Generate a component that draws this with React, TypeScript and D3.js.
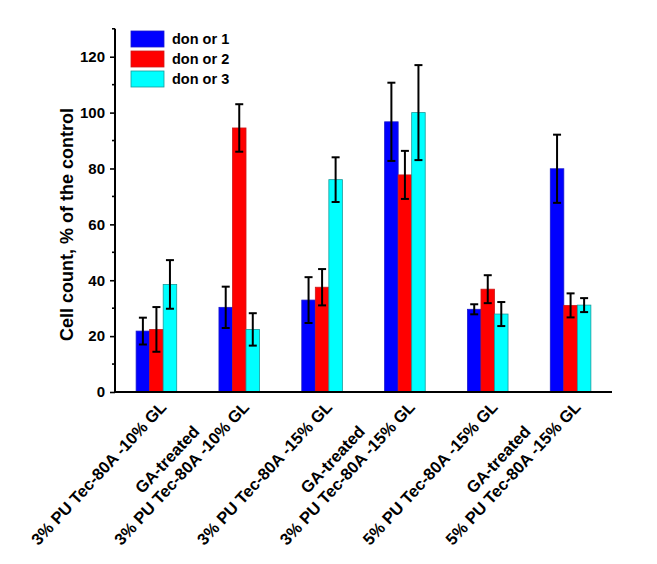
import React, { useEffect, useRef } from 'react';
import * as d3 from 'd3';

// x categories (multi-line labels)
const categories = [
  ['3% PU Tec-80A -10% GL'],
  ['GA-treated', '3% PU Tec-80A -10% GL'],
  ['3% PU Tec-80A -15% GL'],
  ['GA-treated', '3% PU Tec-80A -15% GL'],
  ['5% PU Tec-80A -15% GL'],
  ['GA-treated', '5% PU Tec-80A -15% GL'],
];
const seriesNames = ['don or 1', 'don or 2', 'don or 3'];
const seriesColors = ['#0000ff', '#ff0000', '#00ffff'];
const seriesStrokes = ['#1a1acc', '#cc1a1a', '#1a9a9a'];

const donor1 = [21.8, 30.3, 32.9, 96.7, 29.6, 79.9];
const donor1Err = [4.8, 7.4, 8.2, 14, 1.8, 12.2];
const donor2 = [22.4, 94.5, 37.5, 77.7, 36.8, 31];
const donor2Err = [8, 8.5, 6.5, 8.6, 5, 4.3];
const donor3 = [38.5, 22.4, 76, 100, 27.9, 31.1];
const donor3Err = [8.7, 5.8, 8, 17, 4.3, 2.5];

const yTicks = [0, 20, 40, 60, 80, 100, 120];
const yMinorTicks = [10, 30, 50, 70, 90, 110, 130];

const W = 657;
const H = 564;
const FONT = '"Liberation Sans", Arial, sans-serif';

const App = () => {
  const svgRef = useRef<SVGSVGElement>(null);

  useEffect(() => {
    const svg = d3.select(svgRef.current);
    svg.selectAll('*').remove();

    const values = [donor1, donor2, donor3];
    const errors = [donor1Err, donor2Err, donor3Err];

    const x0 = d3.scaleBand<number>()
      .domain(categories.map((_, i) => i))
      .range([115, 612])
      .paddingInner(0.51)
      .paddingOuter(0.255);
    const x1 = d3.scaleBand<number>()
      .domain([0, 1, 2])
      .range([0, x0.bandwidth()]);
    const y = d3.scaleLinear().domain([0, 130]).range([392, 392 - 130 * 2.794]);

    const g = svg.append('g');

    // bars
    values.forEach((vals, s) => {
      g.append('g')
        .selectAll('rect')
        .data(vals)
        .enter()
        .append('rect')
        .attr('x', (_, i) => (x0(i) as number) + (x1(s) as number))
        .attr('y', d => y(d))
        .attr('width', x1.bandwidth())
        .attr('height', d => y(0) - y(d))
        .attr('fill', seriesColors[s])
        .attr('stroke', seriesStrokes[s])
        .attr('stroke-width', 0.8);
    });

    // error bars
    values.forEach((vals, s) => {
      vals.forEach((v, i) => {
        const cx = (x0(i) as number) + (x1(s) as number) + x1.bandwidth() / 2;
        const e = errors[s][i];
        const eg = g.append('g').attr('stroke', '#000').attr('stroke-width', 2);
        eg.append('line').attr('x1', cx).attr('x2', cx).attr('y1', y(v - e)).attr('y2', y(v + e));
        eg.append('line').attr('x1', cx - 4).attr('x2', cx + 4).attr('y1', y(v + e)).attr('y2', y(v + e));
        eg.append('line').attr('x1', cx - 4).attr('x2', cx + 4).attr('y1', y(v - e)).attr('y2', y(v - e));
      });
    });

    // y axis
    const yAxis = g.append('g')
      .attr('transform', 'translate(115,0)')
      .call(d3.axisLeft(y).tickValues(yTicks).tickSize(5).tickPadding(5).tickFormat(d3.format('d')));
    yAxis.select('.domain').remove();
    yAxis.selectAll('.tick line').attr('stroke', '#000').attr('stroke-width', 1.6);
    yAxis.selectAll('.tick text')
      .attr('font-family', FONT)
      .attr('font-weight', 'bold')
      .attr('font-size', 15)
      .attr('fill', '#000');
    g.append('g')
      .selectAll('line')
      .data(yMinorTicks)
      .enter()
      .append('line')
      .attr('x1', 112)
      .attr('x2', 115)
      .attr('y1', d => y(d))
      .attr('y2', d => y(d))
      .attr('stroke', '#000')
      .attr('stroke-width', 1.6);
    g.append('line')
      .attr('x1', 115).attr('x2', 115)
      .attr('y1', y(130)).attr('y2', y(0) + 1)
      .attr('stroke', '#000').attr('stroke-width', 2);

    // x axis line
    g.append('line')
      .attr('x1', 114).attr('x2', 612)
      .attr('y1', y(0)).attr('y2', y(0))
      .attr('stroke', '#000').attr('stroke-width', 2);

    // x labels, rotated
    categories.forEach((lines, i) => {
      const cx = (x0(i) as number) + x0.bandwidth() / 2;
      const lg = g.append('g')
        .attr('transform', `translate(${cx + 11},408) rotate(-47)`)
        .attr('font-family', FONT)
        .attr('font-weight', 'bold')
        .attr('font-size', 16.5)
        .attr('fill', '#000');
      const last = lg.append('text')
        .attr('text-anchor', 'end')
        .text(lines[lines.length - 1]);
      const w = (last.node() as SVGTextElement).getComputedTextLength();
      if (lines.length > 1) {
        lg.append('text')
          .attr('text-anchor', 'middle')
          .attr('x', -w / 2)
          .attr('y', -20)
          .text(lines[0]);
      }
    });

    // y label
    g.append('text')
      .attr('transform', 'translate(73,224.5) rotate(-90)')
      .attr('text-anchor', 'middle')
      .attr('font-family', FONT)
      .attr('font-weight', 'bold')
      .attr('font-size', 18)
      .attr('fill', '#000')
      .text('Cell count, % of the control');

    // legend
    const legend = g.append('g');
    seriesNames.forEach((name, s) => {
      const ly = 39 + s * 20;
      legend.append('rect')
        .attr('x', 131).attr('y', ly - 8)
        .attr('width', 33).attr('height', 16)
        .attr('fill', seriesColors[s])
        .attr('stroke', seriesStrokes[s])
        .attr('stroke-width', 0.8);
      legend.append('text')
        .attr('x', 172).attr('y', ly)
        .attr('dy', '0.35em')
        .attr('font-family', FONT)
        .attr('font-weight', 'bold')
        .attr('font-size', 14.5)
        .attr('fill', '#000')
        .text(name);
    });
  }, []);

  return (
    <svg
      ref={svgRef}
      width={W}
      height={H}
      style={{ position: 'absolute', left: 0, top: 0, background: '#fff' }}
    />
  );
};

export default App;
